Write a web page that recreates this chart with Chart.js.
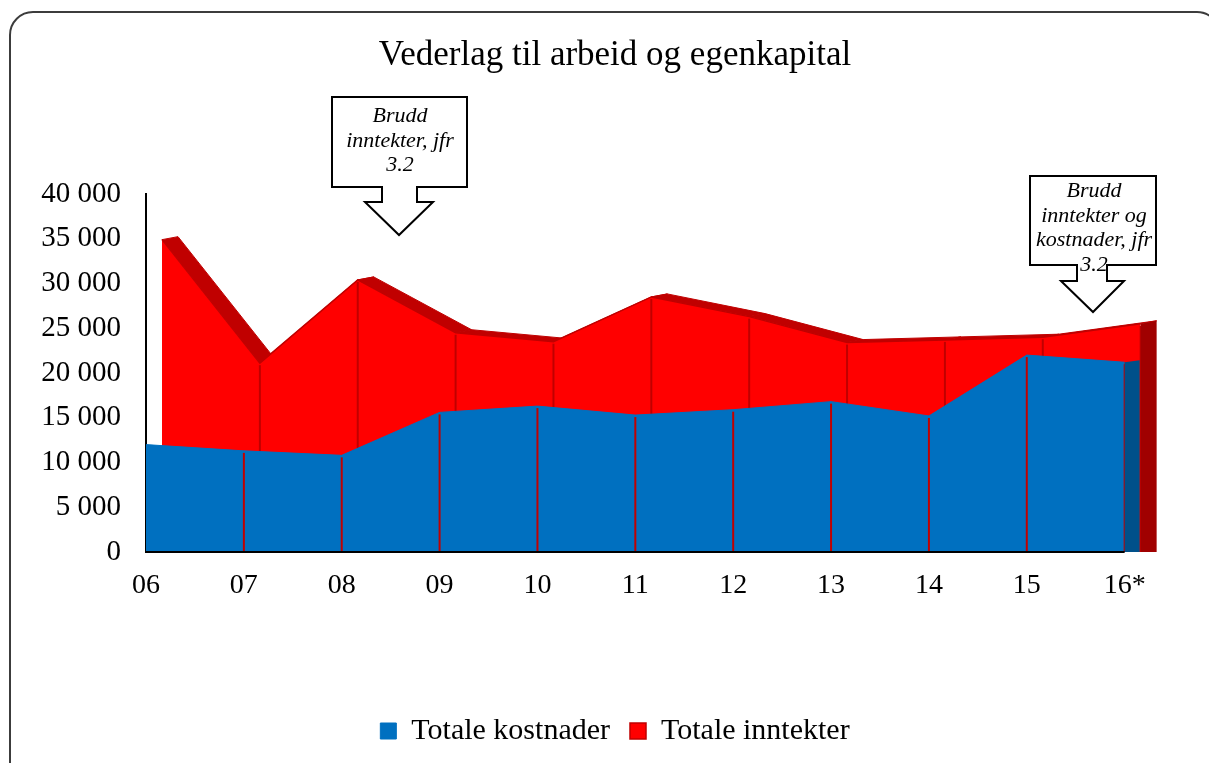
<!DOCTYPE html>
<html>
<head>
<meta charset="utf-8">
<title>Vederlag til arbeid og egenkapital</title>
<script src="https://cdn.jsdelivr.net/npm/chart.js@4.4.1/dist/chart.umd.min.js"></script>
<style>
html,body{margin:0;padding:0;background:#fff;overflow:hidden}
</style>
</head>
<body>
<canvas id="chart" width="1209" height="763"></canvas>
<script>
// years on the x axis, 16* = preliminary
const years=['06','07','08','09','10','11','12','13','14','15','16*'];
// mill. kr
const kostnader=[12000,11300,10800,15600,16300,15300,15900,16800,15200,22000,21200];
const inntekter=[34900,21100,30400,24500,23500,28500,26300,23400,23700,24000,25500];
const yMax=40000;
const yStep=5000;

// boxed arrows with the notes about breaks in the series
const notes=[
  {lines:['Brudd','inntekter, jfr','3.2'],box:[332,97,467,187],shaft:[382,417,202],head:[365,433],tip:[399,235],textX:400,textY:122},
  {lines:['Brudd','inntekter og','kostnader, jfr','3.2'],box:[1030,176,1156,265],shaft:[1077,1107,281],head:[1061,1124],tip:[1093,312],textX:1094,textY:197}
];

Chart.defaults.font.family="'Liberation Serif','Times New Roman',serif";
Chart.defaults.color='#000';

function fmt(v){
  return String(v).replace(/\B(?=(\d{3})+(?!\d))/g,' ');
}

const frame={
  id:'frame',
  beforeDraw(chart){
    const ctx=chart.ctx;
    ctx.save();
    ctx.strokeStyle='#3c3c3c';
    ctx.lineWidth=2;
    ctx.beginPath();
    ctx.roundRect(10,12,1210,820,23);
    ctx.stroke();
    ctx.restore();
  }
};

// fake 3D: back series pushed right, top face, ribs and end caps
const depth={
  id:'depth',
  afterDatasetUpdate(chart,args){
    const ds=chart.data.datasets[args.index];
    if(!ds.shiftX)return;
    args.meta.data.forEach(p=>{p.x+=ds.shiftX;});
  },
  beforeDatasetsDraw(chart){
    const ctx=chart.ctx;
    chart.data.datasets.forEach((ds,i)=>{
      if(!ds.topColor)return;
      const pts=chart.getDatasetMeta(i).data;
      const [dx,dy]=ds.depth;
      ctx.save();
      ctx.fillStyle=ds.topColor;
      ctx.strokeStyle=ds.topColor;
      ctx.lineWidth=1;
      for(let k=0;k<pts.length-1;k++){
        const a=pts[k],b=pts[k+1];
        ctx.beginPath();
        ctx.moveTo(a.x,a.y);
        ctx.lineTo(b.x,b.y);
        ctx.lineTo(b.x+dx,b.y+dy);
        ctx.lineTo(a.x+dx,a.y+dy);
        ctx.closePath();
        ctx.fill();
        ctx.stroke();
      }
      ctx.restore();
    });
  },
  afterDatasetDraw(chart,args){
    const ctx=chart.ctx;
    const ds=chart.data.datasets[args.index];
    const pts=args.meta.data;
    const base=chart.scales.y.getPixelForValue(0);
    const [dx,dy]=ds.depth;
    ctx.save();
    ctx.strokeStyle=ds.ribColor;
    ctx.lineWidth=2;
    for(let k=1;k<pts.length;k++){
      ctx.beginPath();
      ctx.moveTo(pts[k].x,pts[k].y+2);
      ctx.lineTo(pts[k].x,base);
      ctx.stroke();
    }
    const p=pts[pts.length-1];
    ctx.fillStyle=ds.sideColor;
    ctx.beginPath();
    ctx.moveTo(p.x,p.y);
    ctx.lineTo(p.x+dx,p.y+dy);
    ctx.lineTo(p.x+dx,base);
    ctx.lineTo(p.x,base);
    ctx.closePath();
    ctx.fill();
    ctx.restore();
  },
  afterDatasetsDraw(chart){
    // base line under the front series
    const ctx=chart.ctx;
    const pts=chart.getDatasetMeta(0).data;
    const base=chart.scales.y.getPixelForValue(0);
    ctx.save();
    ctx.strokeStyle='#000';
    ctx.lineWidth=2;
    ctx.beginPath();
    ctx.moveTo(pts[0].x,base);
    ctx.lineTo(pts[pts.length-1].x,base);
    ctx.stroke();
    ctx.restore();
  }
};

const callouts={
  id:'callouts',
  afterDraw(chart){
    const ctx=chart.ctx;
    ctx.save();
    notes.forEach(n=>{
      const [l,t,r,b]=n.box;
      const [s1,s2,sb]=n.shaft;
      const [h1,h2]=n.head;
      ctx.beginPath();
      ctx.moveTo(l,t);ctx.lineTo(r,t);ctx.lineTo(r,b);
      ctx.lineTo(s2,b);ctx.lineTo(s2,sb);ctx.lineTo(h2,sb);
      ctx.lineTo(n.tip[0],n.tip[1]);
      ctx.lineTo(h1,sb);ctx.lineTo(s1,sb);ctx.lineTo(s1,b);
      ctx.lineTo(l,b);ctx.closePath();
      ctx.fillStyle='#fff';
      ctx.fill();
      ctx.strokeStyle='#000';
      ctx.lineWidth=2;
      ctx.stroke();
      ctx.fillStyle='#000';
      ctx.font="italic 22px 'Liberation Serif',serif";
      ctx.textAlign='center';
      ctx.textBaseline='alphabetic';
      n.lines.forEach((s,k)=>ctx.fillText(s,n.textX,n.textY+k*24.5));
    });
    ctx.restore();
  }
};

new Chart(document.getElementById('chart'),{
  type:'line',
  data:{
    datasets:[
      {
        label:'Totale kostnader',
        data:kostnader.map((v,i)=>({x:i,y:v})),
        backgroundColor:'#0070C0',
        borderColor:'#0070C0',
        borderWidth:1,
        fill:'origin',
        pointRadius:0,
        tension:0,
        clip:false,
        depth:[15,-2],
        ribColor:'#C00000',
        sideColor:'#00508A'
      },
      {
        label:'Totale inntekter',
        data:inntekter.map((v,i)=>({x:i,y:v})),
        backgroundColor:'#FF0000',
        borderColor:'#C00000',
        borderWidth:1.5,
        fill:'origin',
        pointRadius:0,
        tension:0,
        clip:false,
        shiftX:16,
        depth:[16,-3],
        topColor:'#C00000',
        ribColor:'#C00000',
        sideColor:'#A00000'
      }
    ]
  },
  options:{
    responsive:false,
    animation:false,
    events:[],
    layout:{padding:{left:30,right:9,top:0,bottom:7}},
    scales:{
      x:{
        type:'linear',
        bounds:'data',
        min:0,
        max:10.77,
        z:1,
        grid:{display:false,drawTicks:false},
        border:{display:false},
        ticks:{
          stepSize:1,
          includeBounds:false,
          autoSkip:false,
          maxRotation:0,
          padding:17,
          font:{size:28},
          callback:v=>Number.isInteger(v)&&years[v]!==undefined?years[v]:''
        },
        afterFit(scale){scale.height=144;}
      },
      y:{
        min:0,
        max:yMax,
        z:1,
        grid:{display:false,drawTicks:false},
        border:{display:true,color:'#000',width:2},
        ticks:{stepSize:yStep,padding:25,font:{size:29},callback:v=>fmt(v)},
        afterFit(scale){scale.width=116;}
      }
    },
    plugins:{
      title:{
        display:true,
        text:'Vederlag til arbeid og egenkapital',
        font:{size:35,weight:'normal'},
        color:'#000',
        padding:{top:35,bottom:117}
      },
      legend:{
        position:'bottom',
        labels:{boxWidth:16,boxHeight:16,padding:20,font:{size:30},color:'#000'}
      },
      tooltip:{enabled:false}
    }
  },
  plugins:[frame,depth,callouts]
});
</script>
</body>
</html>
